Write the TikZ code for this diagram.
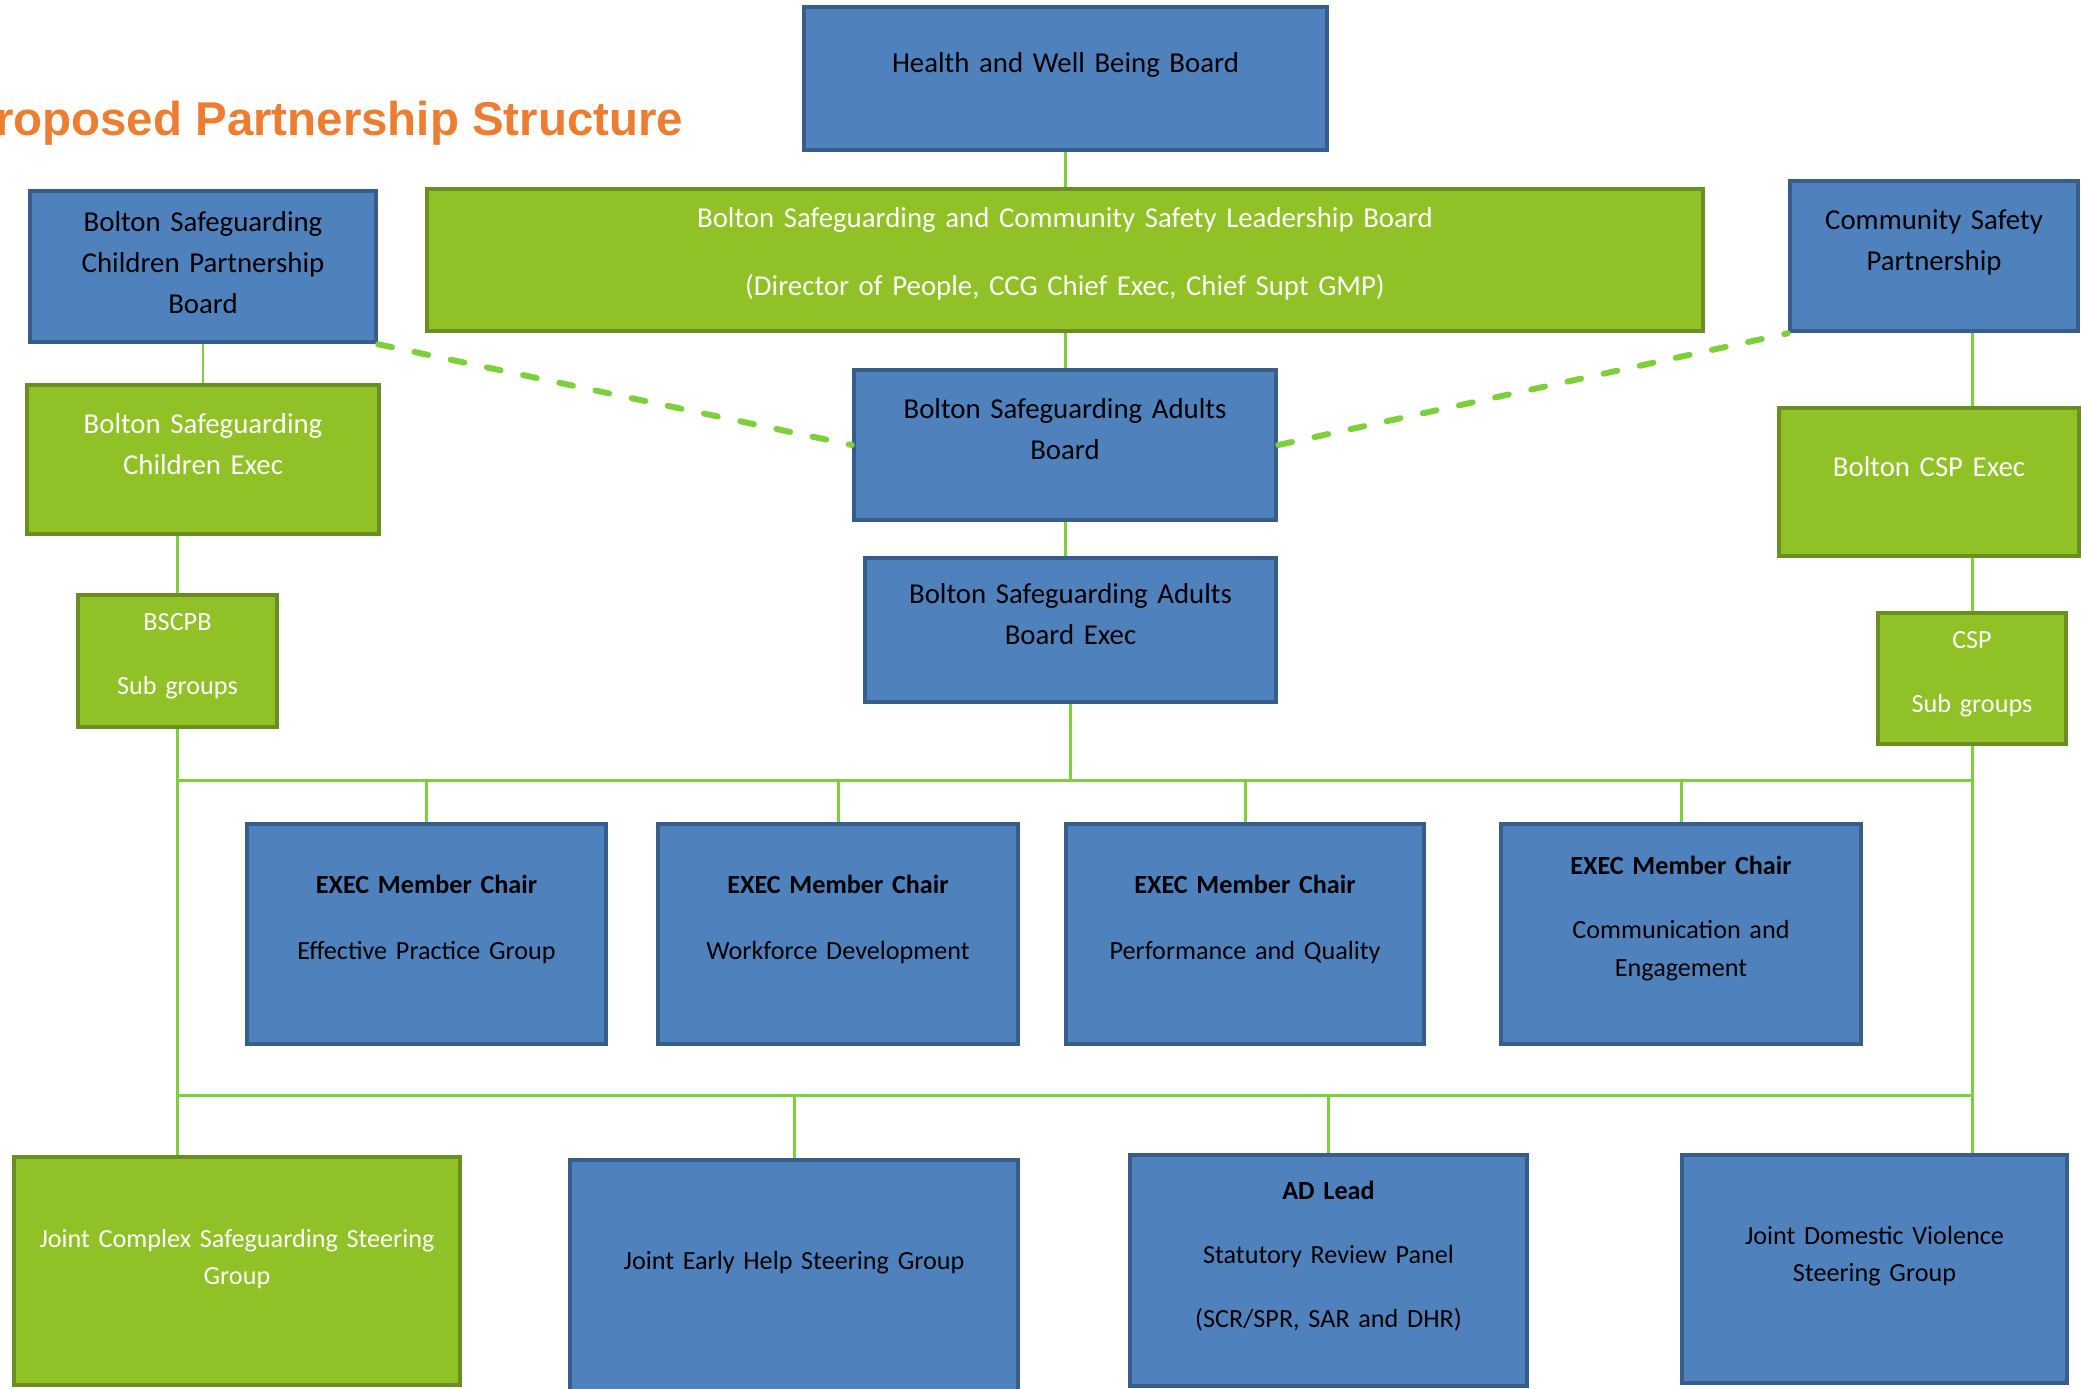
\documentclass[tikz,border=0pt]{standalone}
\usepackage{fontspec}
\setmainfont{Carlito}
\newfontfamily\headfont{Liberation Sans}
\definecolor{boxblue}{RGB}{79,129,189}
\definecolor{blueline}{RGB}{56,93,138}
\definecolor{boxgreen}{RGB}{144,193,39}
\definecolor{greenline}{RGB}{107,142,35}
\definecolor{linkgreen}{RGB}{125,208,60}
\definecolor{headorange}{RGB}{237,125,49}

\begin{document}
\begin{tikzpicture}[inner sep=0pt,
    blue node/.style={rectangle,draw=blueline,fill=boxblue,line width=1.3pt,align=center,text=black},
    green node/.style={rectangle,draw=greenline,fill=boxgreen,line width=1.3pt,align=center,text=white},
    big text/.style={font=\fontsize{8.2}{11.67}\selectfont},
    small text/.style={font=\fontsize{7.45}{10.67}\selectfont},
    dims/.style n args={3}{text width=#1cm,text height=#2cm,text depth=#3cm},
    heading/.style={font=\headfont\bfseries\fontsize{13.5}{16}\selectfont,text=headorange},
    link/.style={draw=linkgreen,line width=0.85pt},
    dash link/.style={draw=linkgreen,line width=1.7pt,line cap=round,dash pattern=on 0.14cm off 0.23cm}]
	\useasboundingbox (0,0) rectangle (20.81,-13.88);
	\node[heading,anchor=base east] (head) at (6.84,-1.35) {Proposed Partnership Structure};

	% boards
	\node[blue node,big text,dims={5.23}{0.65}{0.78}] (hwb) at (10.655,-0.785) {Health and Well Being Board};
	\node[green node,big text,dims={12.76}{0.38}{1.04}] (lead) at (10.65,-2.60) {Bolton Safeguarding and Community Safety Leadership Board\\[0.275cm](Director of People, CCG Chief Exec, Chief Supt GMP)};
	\node[blue node,big text,dims={3.46}{0.40}{1.11}] (bscpb) at (2.03,-2.665) {Bolton Safeguarding\\Children Partnership\\Board};
	\node[blue node,big text,dims={2.88}{0.48}{1.02}] (csp) at (19.34,-2.56) {Community Safety\\Partnership};
	\node[green node,big text,dims={3.52}{0.48}{1.01}] (bsce) at (2.03,-4.595) {Bolton Safeguarding\\Children Exec};
	\node[blue node,big text,dims={4.22}{0.48}{1.02}] (sab) at (10.65,-4.45) {Bolton Safeguarding Adults\\Board};
	\node[green node,big text,dims={3.00}{0.68}{0.80}] (cspe) at (19.29,-4.82) {Bolton CSP Exec};
	\node[blue node,big text,dims={4.11}{0.45}{0.99}] (sabe) at (10.705,-6.30) {Bolton Safeguarding Adults\\Board Exec};
	\node[green node,small text,dims={1.99}{0.35}{0.97}] (bsub) at (1.775,-6.61) {BSCPB\\[0.265cm]Sub groups};
	\node[green node,small text,dims={1.88}{0.35}{0.96}] (csub) at (19.72,-6.785) {CSP\\[0.265cm]Sub groups};

	% exec member chairs
	\node[blue node,small text,dims={3.59}{0.69}{1.51}] (ex1) at (4.265,-9.34) {\textbf{EXEC Member Chair}\\[0.285cm]Effective Practice Group};
	\node[blue node,small text,dims={3.60}{0.69}{1.51}] (ex2) at (8.38,-9.34) {\textbf{EXEC Member Chair}\\[0.285cm]Workforce Development};
	\node[blue node,small text,dims={3.58}{0.69}{1.51}] (ex3) at (12.45,-9.34) {\textbf{EXEC Member Chair}\\[0.285cm]Performance and Quality};
	\node[blue node,small text,dims={3.60}{0.50}{1.70}] (ex4) at (16.81,-9.34) {\textbf{EXEC Member Chair}\\[0.27cm]Communication and\\Engagement};

	% joint groups
	\node[green node,small text,dims={4.46}{0.90}{1.38}] (jcs) at (2.37,-12.71) {Joint Complex Safeguarding Steering\\Group};
	\node[blue node,small text,dims={4.48}{1.09}{1.31}] (jeh) at (7.94,-12.80) {Joint Early Help Steering Group};
	\node[blue node,small text,dims={3.97}{0.44}{1.87}] (adl) at (13.285,-12.705) {\textbf{AD Lead}\\[0.265cm]Statutory Review Panel\\[0.265cm](SCR/SPR, SAR and DHR)};
	\node[blue node,small text,dims={3.85}{0.89}{1.39}] (jdv) at (18.745,-12.69) {Joint Domestic Violence\\Steering Group};

	\draw[link] (hwb.south) -- (hwb.south |- lead.north);
	\draw[link] (lead.south) -- (lead.south |- sab.north);
	\draw[link] (sab.south) -- (sab.south |- sabe.north);
	\draw[link] (bscpb.south) -- (bscpb.south |- bsce.north);
	\draw[link] (bsub.north |- bsce.south) -- (bsub.north);
	\draw[link] (csub.north |- csp.south) -- (csub.north |- cspe.north);
	\draw[link] (csub.north |- cspe.south) -- (csub.north);
	\draw[link] (sabe.south) -- ++(0,-0.76) coordinate (hub);
	\draw[link] (bsub.south |- hub) -- (csub.south |- hub);
	\draw[link] (bsub.south) -- (bsub.south |- jcs.north);
	\draw[link] (csub.south) -- (csub.south |- jdv.north);
	\foreach \n in {ex1,ex2,ex3,ex4}
		\draw[link] (\n.north |- hub) -- (\n.north);
	\coordinate (hub2) at (0,-10.95);
	\draw[link] (bsub.south |- hub2) -- (csub.south |- hub2);
	\foreach \n in {jeh,adl}
		\draw[link] (\n.north |- hub2) -- (\n.north);
	\draw[dash link] (bscpb.south east) -- (sab.west);
	\draw[dash link] (sab.east) -- (csp.south west);
\end{tikzpicture}
\end{document}
